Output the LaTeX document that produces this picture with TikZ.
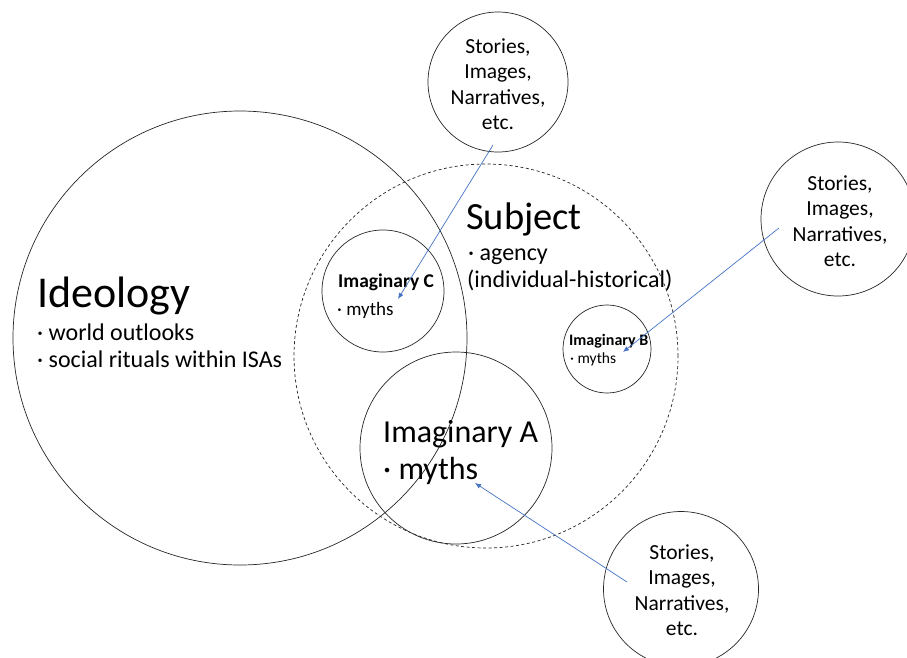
\documentclass[tikz,border=0pt]{standalone}
\usepackage{fontspec}
\setmainfont{Carlito}
\usetikzlibrary{arrows.meta}
\begin{document}
\begin{tikzpicture}[x=1pt,y=-1pt,
  ring/.style={draw=black!85, line width=0.7pt, circle, inner sep=0pt, minimum size=#1},
  dring/.style={ring=#1, dash pattern=on 3pt off 2.5pt},
  lbl/.style={anchor=base west, inner sep=0pt},
  src/.style={align=center, inner sep=0pt, font=\fontsize{21.5}{25.5}\selectfont},
  feed/.style={draw={rgb,255:red,68;green,114;blue,196}, line width=0.7pt, -{Latex[length=6pt,width=5pt]}}
]
\useasboundingbox (0,0) rectangle (907,657);
% circles
\node[ring=454pt] (ideo) at (240,338) {};
\node[dring=384pt] (subj) at (486,356) {};
\node[ring=122pt] (imC) at (383,291) {};
\node[ring=88pt] (imB) at (607,349) {};
\node[ring=192pt] (imA) at (456,448) {};
\node[ring=140pt] (srcT) at (498,82) {};
\node[ring=154pt] (srcR) at (838,219) {};
\node[ring=155pt] (srcB) at (681,589) {};
% source texts
\node[src] (tT) at (498,84) {Stories,\\Images,\\Narratives,\\etc.};
\node[src] (tR) at (840,221) {Stories,\\Images,\\Narratives,\\etc.};
\node[src] (tB) at (682,590) {Stories,\\Images,\\Narratives,\\etc.};
% Ideology
\node[lbl, font=\fontsize{44}{44}\selectfont] (ideoT) at (37,307) {Ideology};
\node[lbl, font=\fontsize{24}{24}\selectfont] (ideo1) at (37,340) {· world outlooks};
\node[lbl, font=\fontsize{24}{24}\selectfont] (ideo2) at (37,367) {· social rituals within ISAs};
% Subject
\node[lbl, font=\fontsize{38.5}{38.5}\selectfont] (subjT) at (466,229) {Subject};
\node[lbl, font=\fontsize{24}{24}\selectfont] (subj1) at (468,260) {· agency};
\node[lbl, font=\fontsize{24}{24}\selectfont] (subj2) at (467,287) {(individual-historical)};
% Imaginary C
\node[lbl, font=\bfseries\fontsize{19.5}{19.5}\selectfont] (imCT) at (338,287) {Imaginary C};
\node[lbl, font=\fontsize{19}{19}\selectfont] (imC1) at (337,315) {· myths};
% Imaginary B
\node[lbl, font=\bfseries\fontsize{16}{16}\selectfont] (imBT) at (569,345) {Imaginary B};
\node[lbl, font=\fontsize{15.5}{15.5}\selectfont] (imB1) at (570,363) {· myths};
% Imaginary A
\node[lbl, font=\fontsize{32}{32}\selectfont] (imAT) at (383,442) {Imaginary A};
\node[lbl, font=\fontsize{32}{32}\selectfont] (imA1) at (383,479) {· myths};
% arrow ends
\coordinate (aCs) at (493,145);
\coordinate (aCe) at (398,299);
\coordinate (aBs) at (779,228);
\coordinate (aBe) at (623,352);
\coordinate (aAs) at (627,582);
\coordinate (aAe) at (475,483);
\draw[feed] (aCs) -- (aCe);
\draw[feed] (aBs) -- (aBe);
\draw[feed] (aAs) -- (aAe);
\end{tikzpicture}
\end{document}
